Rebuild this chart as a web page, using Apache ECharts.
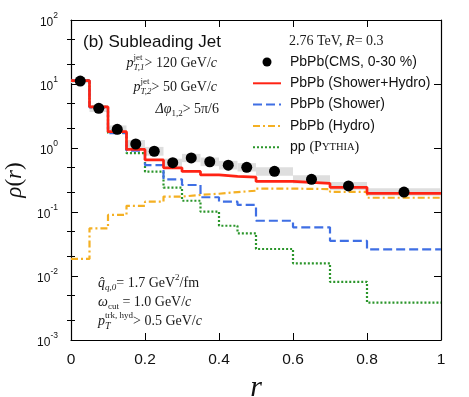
<!DOCTYPE html>
<html>
<head>
<meta charset="utf-8">
<script src="https://cdn.jsdelivr.net/npm/echarts@6/dist/echarts.min.js"></script>
<style>
html, body { margin: 0; padding: 0; background: #fff; }
#chart { width: 469px; height: 397px; }
</style>
</head>
<body>
<div id="chart"></div>
<script>
// bins in r (last edge closes the final bin)
var binEdges = [0, 0.05, 0.1, 0.15, 0.2, 0.25, 0.3, 0.35, 0.4, 0.45, 0.5, 0.6, 0.7, 0.8, 1.0];

// CMS PbPb 0-30%, bin centres + systematic band
var cmsR    = [0.025, 0.075, 0.125, 0.175, 0.225, 0.275, 0.325, 0.375, 0.425, 0.475, 0.55, 0.65, 0.75, 0.9];
var cmsRho  = [11.1, 4.17, 1.96, 1.155, 0.89, 0.589, 0.70, 0.61, 0.54, 0.50, 0.432, 0.324, 0.255, 0.205];
var cmsSysLo = [10.3, 3.65, 1.7, 1.0, 0.76, 0.5, 0.6, 0.52, 0.46, 0.43, 0.37, 0.28, 0.22, 0.18];
var cmsSysHi = [12.0, 4.7, 2.25, 1.33, 1.04, 0.68, 0.81, 0.71, 0.63, 0.58, 0.5, 0.375, 0.295, 0.235];

// model curves, one value per bin
var showerHydro = [11.3, 4.4, 1.8, 0.95, 0.65, 0.49, 0.43, 0.38, 0.36, 0.35, 0.30, 0.28, 0.243, 0.196];
var shower      = [11.3, 4.3, 1.7, 0.91, 0.54, 0.324, 0.264, 0.17, 0.145, 0.129, 0.073, 0.0576, 0.0355, 0.026];
var hydro       = [0.0185, 0.0556, 0.09, 0.125, 0.145, 0.174, 0.185, 0.193, 0.205, 0.215, 0.232, 0.228, 0.207, 0.167];
var pythia      = [11.5, 4.4, 1.72, 0.83, 0.427, 0.24, 0.15, 0.101, 0.061, 0.0465, 0.0264, 0.0158, 0.0081, 0.00383];

var yMinorTicks = [0.002, 0.005, 0.02, 0.05, 0.2, 0.5, 2, 5, 20, 50];

var SANS = 'Liberation Sans';
var SERIF = 'Liberation Serif';

function stepData(vals) {
	var pts = [];
	for (var i = 0; i < vals.length; i++) {
		pts.push([binEdges[i], vals[i]]);
	}
	pts.push([binEdges[vals.length], vals[vals.length - 1]]);
	return pts;
}

// small helper to lay out math-like text pieces side by side
var ctx2d = document.createElement('canvas').getContext('2d');
function P(t, s, it, dy) {
	return {t: t, s: s, it: it, dy: dy || 0};
}
function mathText(x, y, pieces, alignRight) {
	var items = [], cx = 0;
	pieces.forEach(function(grp) {
		if (!Array.isArray(grp)) grp = [grp];
		var adv = 0;
		grp.forEach(function(p) {
			var font = (p.it ? 'italic ' : '') + p.s + 'px "' + SERIF + '"';
			ctx2d.font = font;
			adv = Math.max(adv, ctx2d.measureText(p.t).width);
			items.push({t: p.t, font: font, dx: cx, dy: p.dy});
		});
		cx += adv;
	});
	var x0 = alignRight ? x - cx : x;
	return items.map(function(it) {
		return {
			type: 'text', x: x0 + it.dx, y: y + it.dy, z: 100,
			style: {text: it.t, font: it.font, fill: '#1a1a1a', textVerticalAlign: 'middle', verticalAlign: 'middle'}
		};
	});
}

var graphics = [].concat(
	[{type: 'text', x: 83, y: 42, z: 100,
	  style: {text: '(b) Subleading Jet', font: '17px "' + SANS + '"', fill: '#111', textVerticalAlign: 'middle', verticalAlign: 'middle'}}],
	mathText(217, 63, [P('p', 14, 1), [P('jet', 9, 0, -5), P('T,1', 9, 1, 5)], P('> 120 GeV/', 14), P('c', 14, 1)], true),
	mathText(217, 87, [P('p', 14, 1), [P('jet', 9, 0, -5), P('T,2', 9, 1, 5)], P('> 50 GeV/', 14), P('c', 14, 1)], true),
	mathText(219, 109, [P('\u0394\u03c6', 14, 1), P('1,2', 9, 0, 5), P('> 5\u03c0/6', 14)], true),
	mathText(289, 41, [P('2.76 TeV, ', 14), P('R', 14, 1), P('= 0.3', 14)], false),
	mathText(98, 283, [P('q\u0302', 14, 1), P('q,0', 9, 1, 5), P('= 1.7 GeV', 14), P('2', 9, 0, -5), P('/fm', 14)], false),
	mathText(98, 302, [P('\u03c9', 14, 1), P('cut', 9, 0, 5), P(' = 1.0 GeV/', 14), P('c', 14, 1)], false),
	mathText(98, 321, [P('p', 14, 1), [P('trk, hyd', 9, 0, -5), P('T', 10, 1, 5)], P('> 0.5 GeV/', 14), P('c', 14, 1)], false)
);

var sysData = cmsR.map(function(r, i) {
	return [binEdges[i], binEdges[i + 1], cmsSysLo[i], cmsSysHi[i]];
});

var frameLine = {show: true, onZero: false, lineStyle: {color: '#000', width: 1.2}};
var noSymbol = {opacity: 0};

var myChart = echarts.init(document.getElementById('chart'));
var option = {
	animation: false,
	backgroundColor: '#fff',
	grid: {left: 71, right: 28, top: 20, bottom: 57, outerBoundsMode: 'none', containLabel: false},
	legend: {
		orient: 'vertical',
		left: 252,
		top: 54,
		padding: 0,
		itemWidth: 28,
		itemHeight: 9,
		itemGap: 5.3,
		selectedMode: false,
		data: [
			{name: 'PbPb(CMS, 0-30 %)'},
			{name: 'PbPb (Shower+Hydro)', itemStyle: noSymbol},
			{name: 'PbPb (Shower)', itemStyle: noSymbol},
			{name: 'PbPb (Hydro)', itemStyle: noSymbol},
			{name: 'pp (PYTHIA)', itemStyle: noSymbol}
		],
		formatter: function(name) {
			if (name === 'pp (PYTHIA)') return '{a|pp }{b|(P}{c|YTHIA}{b|)}';
			return name;
		},
		textStyle: {
			fontFamily: SANS, fontSize: 14, color: '#111', lineHeight: 16, padding: [0, 0, 0, 4],
			rich: {
				a: {fontFamily: SANS, fontSize: 14, color: '#111'},
				b: {fontFamily: SERIF, fontSize: 14, color: '#111'},
				c: {fontFamily: SERIF, fontSize: 10.5, color: '#111'}
			}
		}
	},
	xAxis: [{
		type: 'value', min: 0, max: 1, interval: 0.2, position: 'bottom',
		axisLine: frameLine,
		axisTick: {inside: true, length: 7, lineStyle: {color: '#000'}},
		axisLabel: {fontFamily: SANS, fontSize: 15.5, color: '#111', margin: 12,
			formatter: function(v) { return String(+v.toFixed(1)); }},
		splitLine: {show: false},
		name: 'r', nameLocation: 'middle', nameGap: 26,
		nameTextStyle: {fontFamily: SERIF, fontStyle: 'italic', fontSize: 30, color: '#111'}
	}, {
		type: 'value', min: 0, max: 1, interval: 0.2, position: 'top',
		axisLine: frameLine,
		axisTick: {inside: true, length: 7, lineStyle: {color: '#000'}},
		axisLabel: {show: false},
		splitLine: {show: false}
	}],
	yAxis: [{
		type: 'log', min: 0.001, max: 100, position: 'left',
		axisLine: frameLine,
		axisTick: {inside: true, length: 7, lineStyle: {color: '#000'}},
		axisLabel: {
			margin: 13, color: '#111',
			formatter: function(v) {
				return '{n|10}{s|' + Math.round(Math.log10(v)) + '}';
			},
			rich: {
				n: {fontFamily: SANS, fontSize: 12, color: '#111', padding: [6, 0, 0, 0], verticalAlign: 'bottom'},
				s: {fontFamily: SANS, fontSize: 8.5, color: '#111', verticalAlign: 'top'}
			}
		},
		splitLine: {show: false},
		name: '{i|\u03c1}{u|(}{i|r}{u|)}', nameLocation: 'middle', nameGap: 41,
		nameTextStyle: {
			fontSize: 23, color: '#111',
			rich: {
				i: {fontFamily: SERIF, fontStyle: 'italic', fontSize: 23, color: '#111'},
				u: {fontFamily: SERIF, fontSize: 23, color: '#111'}
			}
		}
	}, {
		type: 'log', min: 0.001, max: 100, position: 'left',
		axisLine: {show: false},
		axisTick: {inside: true, length: 4, customValues: yMinorTicks, lineStyle: {color: '#000'}},
		axisLabel: {show: false},
		splitLine: {show: false}
	}, {
		type: 'log', min: 0.001, max: 100, position: 'right',
		axisLine: frameLine,
		axisTick: {inside: true, length: 7, lineStyle: {color: '#000'}},
		axisLabel: {show: false},
		splitLine: {show: false}
	}, {
		type: 'log', min: 0.001, max: 100, position: 'right',
		axisLine: {show: false},
		axisTick: {inside: true, length: 4, customValues: yMinorTicks, lineStyle: {color: '#000'}},
		axisLabel: {show: false},
		splitLine: {show: false}
	}],
	graphic: graphics,
	series: [{
		name: 'sys',
		type: 'custom',
		data: sysData,
		encode: {x: [0, 1], y: [2, 3]},
		renderItem: function(params, api) {
			var p0 = api.coord([api.value(0), api.value(3)]);
			var p1 = api.coord([api.value(1), api.value(2)]);
			return {
				type: 'rect',
				shape: {x: p0[0], y: p0[1], width: p1[0] - p0[0], height: p1[1] - p0[1]},
				style: {fill: '#dedede'}
			};
		}
	}, {
		name: 'pp (PYTHIA)', type: 'line', step: 'end', symbol: 'none',
		data: stepData(pythia),
		itemStyle: {color: '#2a952a'},
		lineStyle: {color: '#2a952a', width: 2.2, type: [2, 2]}
	}, {
		name: 'PbPb (Hydro)', type: 'line', step: 'end', symbol: 'none',
		data: stepData(hydro),
		itemStyle: {color: '#f4b023'},
		lineStyle: {color: '#f4b023', width: 2.2, type: [7, 3, 2, 3]}
	}, {
		name: 'PbPb (Shower)', type: 'line', step: 'end', symbol: 'none',
		data: stepData(shower),
		itemStyle: {color: '#3f6fe4'},
		lineStyle: {color: '#3f6fe4', width: 2.2, type: [9, 4]}
	}, {
		name: 'PbPb (Shower+Hydro)', type: 'line', step: 'end', symbol: 'none',
		data: stepData(showerHydro),
		itemStyle: {color: '#ff2314'},
		lineStyle: {color: '#ff2314', width: 2.7}
	}, {
		name: 'PbPb(CMS, 0-30 %)', type: 'scatter', symbol: 'circle', symbolSize: 11,
		data: cmsR.map(function(r, i) { return [r, cmsRho[i]]; }),
		itemStyle: {color: '#000', opacity: 1},
		z: 5
	}]
};
myChart.setOption(option);
</script>
</body>
</html>
